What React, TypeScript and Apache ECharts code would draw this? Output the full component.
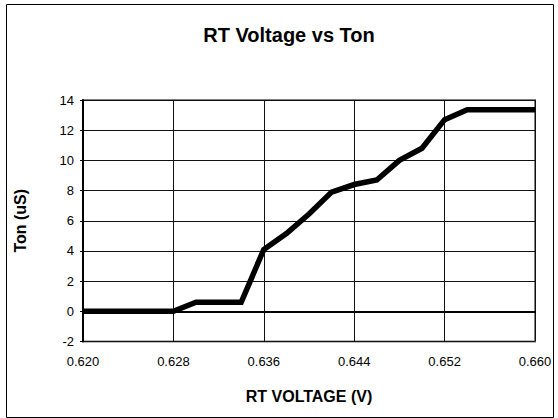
import React, { useEffect, useRef } from "react";
import * as echarts from "echarts";

const chartTitle = "RT Voltage vs Ton";
const xAxisName = "RT VOLTAGE (V)";
const yAxisName = "Ton (uS)";

const rtVoltage = [
  0.62, 0.622, 0.624, 0.626, 0.628, 0.63, 0.632, 0.634, 0.636, 0.638, 0.64,
  0.642, 0.644, 0.646, 0.648, 0.65, 0.652, 0.654, 0.656, 0.658, 0.66,
];
const tonValues = [
  0, 0, 0, 0, 0, 0.6, 0.6, 0.6, 4.1, 5.15, 6.45, 7.9, 8.4, 8.7, 10.0, 10.8,
  12.7, 13.35, 13.35, 13.35, 13.35,
];

const xMin = 0.62;
const xMax = 0.66;
const xStep = 0.008;
const yMin = -2;
const yMax = 14;
const yStep = 2;

const FONT = "'Liberation Sans', Arial, sans-serif";

export default function App() {
  const ref = useRef<HTMLDivElement>(null);

  useEffect(() => {
    if (!ref.current) return;
    const chart = echarts.init(ref.current, undefined, { renderer: "svg" });
    const data = rtVoltage.map((x, i) => [x, tonValues[i]]);
    chart.setOption({
      animation: false,
      backgroundColor: "#ffffff",
      textStyle: { fontFamily: FONT },
      graphic: [
        {
          type: "rect",
          shape: { x: 6.5, y: 4.5, width: 547, height: 413 },
          style: { fill: "none", stroke: "#000", lineWidth: 1 },
          silent: true,
        },
        {
          type: "text",
          x: 289,
          y: 34.5,
          style: {
            text: chartTitle,
            fill: "#000",
            font: `bold 20px ${FONT}`,
            textAlign: "center",
            textVerticalAlign: "middle",
          },
        },
      ],
      grid: {
        left: 83,
        top: 100,
        width: 452,
        height: 241.5,
        show: true,
        borderColor: "#808080",
        borderWidth: 2,
        backgroundColor: "transparent",
      },
      xAxis: {
        type: "value",
        min: xMin,
        max: xMax,
        interval: xStep,
        name: xAxisName,
        nameLocation: "middle",
        nameGap: 47,
        nameTextStyle: {
          color: "#000",
          fontSize: 16,
          fontWeight: "bold",
          fontFamily: FONT,
        },
        axisLine: { show: true, lineStyle: { color: "#000", width: 2 } },
        axisTick: { show: false },
        axisLabel: {
          color: "#000",
          fontSize: 13,
          fontFamily: FONT,
          margin: 13,
          formatter: (v: number) => v.toFixed(3),
        },
        splitLine: { show: true, lineStyle: { color: "#111", width: 1 } },
      },
      yAxis: {
        type: "value",
        min: yMin,
        max: yMax,
        interval: yStep,
        name: yAxisName,
        nameLocation: "middle",
        nameGap: 55,
        nameTextStyle: {
          color: "#000",
          fontSize: 16,
          fontWeight: "bold",
          fontFamily: FONT,
        },
        axisLine: { show: true, lineStyle: { color: "#000", width: 2 } },
        axisTick: { show: true, length: 3, lineStyle: { color: "#000", width: 1 } },
        axisLabel: {
          color: "#000",
          fontSize: 13,
          fontFamily: FONT,
          margin: 9,
        },
        splitLine: { show: true, lineStyle: { color: "#111", width: 1 } },
      },
      series: [
        {
          type: "line",
          data,
          showSymbol: false,
          symbol: "none",
          lineStyle: { color: "#000", width: 5.5, join: "miter" },
          z: 5,
        },
      ],
    });
    return () => chart.dispose();
  }, []);

  return (
    <div
      ref={ref}
      style={{ position: "absolute", left: 0, top: 0, width: 558, height: 418 }}
    />
  );
}
